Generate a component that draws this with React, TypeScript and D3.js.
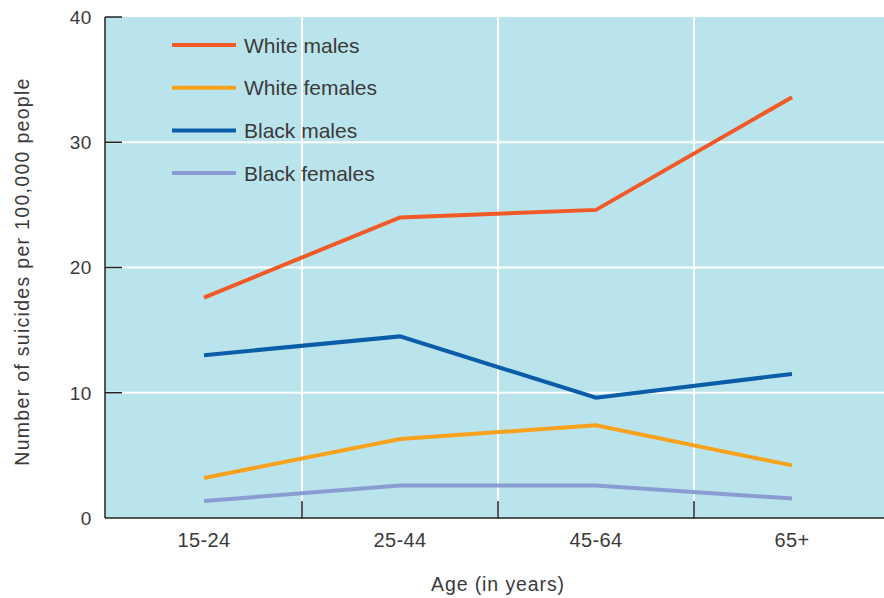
import React from "react";
import * as d3 from "d3";

const ageGroups = ["15-24", "25-44", "45-64", "65+"];
const whiteMales = [17.6, 24.0, 24.6, 33.6];
const whiteFemales = [3.2, 6.3, 7.4, 4.2];
const blackMales = [13.0, 14.5, 9.6, 11.5];
const blackFemales = [1.35, 2.6, 2.6, 1.55];
const yTicks = [0, 10, 20, 30, 40];

const seriesNames = ["White males", "White females", "Black males", "Black females"];
const seriesValues = [whiteMales, whiteFemales, blackMales, blackFemales];
const seriesColors = ["#f15a27", "#f7a11c", "#0b5ca9", "#8a9dd3"];

const W = 884;
const H = 598;
const left = 105;
const right = 884;
const top = 17;
const bottom = 518;

export default function App() {
  const x = d3.scalePoint<string>().domain(ageGroups).range([204, 792]);
  const step = x.step();
  const y = d3.scaleLinear().domain([0, 40]).range([bottom, top]);
  const line = d3
    .line<number>()
    .x((_, i) => x(ageGroups[i]) as number)
    .y((d) => y(d));

  const boundaries = ageGroups.slice(1).map((g) => (x(g) as number) - step / 2);
  const font = "'Liberation Sans', Arial, Helvetica, sans-serif";
  const textColor = "#3a3a3a";

  return (
    <svg
      width={W}
      height={H}
      style={{ position: "absolute", left: 0, top: 0, fontFamily: font }}
    >
      <rect x={left} y={top} width={right - left} height={bottom - top} fill="#bae4ec" />
      {/* gridlines */}
      {yTicks.slice(1, 4).map((t) => (
        <line key={t} x1={left} x2={right} y1={y(t)} y2={y(t)} stroke="#fff" strokeWidth={2} />
      ))}
      {boundaries.map((b, i) => (
        <line key={i} x1={b} x2={b} y1={top} y2={bottom} stroke="#fff" strokeWidth={2} />
      ))}
      {/* ticks */}
      {yTicks.slice(1).map((t) => (
        <line key={t} x1={left} x2={left + 17} y1={y(t)} y2={y(t)} stroke="#222" strokeWidth={1.5} />
      ))}
      {boundaries.map((b, i) => (
        <line key={i} x1={b} x2={b} y1={bottom} y2={bottom - 17} stroke="#222" strokeWidth={1.5} />
      ))}
      {/* axes */}
      <line x1={left} x2={left} y1={top} y2={bottom} stroke="#222" strokeWidth={1.5} />
      <line x1={left} x2={right} y1={bottom} y2={bottom} stroke="#222" strokeWidth={1.5} />
      {/* y tick labels */}
      {yTicks.map((t) => (
        <text
          key={t}
          x={92}
          y={y(t)}
          dy="0.36em"
          textAnchor="end"
          fontSize={19}
          letterSpacing={0.6}
          fill={textColor}
        >
          {t}
        </text>
      ))}
      {/* x tick labels */}
      {ageGroups.map((g) => (
        <text
          key={g}
          x={x(g)}
          y={547}
          textAnchor="middle"
          fontSize={20}
          letterSpacing={0.4}
          fill={textColor}
        >
          {g}
        </text>
      ))}
      {/* axis titles */}
      <text
        x={498}
        y={591}
        textAnchor="middle"
        fontSize={19.5}
        letterSpacing={0.9}
        fill={textColor}
      >
        Age (in years)
      </text>
      <text
        transform={`translate(29, ${(top + bottom) / 2 + 4}) rotate(-90)`}
        textAnchor="middle"
        fontSize={19.5}
        letterSpacing={1.3}
        fill={textColor}
      >
        Number of suicides per 100,000 people
      </text>
      {/* series lines */}
      {seriesValues.map((vals, i) => (
        <path
          key={seriesNames[i]}
          d={line(vals) as string}
          fill="none"
          stroke={seriesColors[i]}
          strokeWidth={4}
          strokeLinejoin="miter"
        />
      ))}
      {/* legend */}
      {seriesNames.map((name, i) => {
        const ly = 45 + i * 42.7;
        return (
          <g key={name}>
            <line x1={172} x2={236} y1={ly} y2={ly} stroke={seriesColors[i]} strokeWidth={4} />
            <text x={244} y={ly} dy="0.36em" fontSize={21} fill={textColor}>
              {name}
            </text>
          </g>
        );
      })}
    </svg>
  );
}
